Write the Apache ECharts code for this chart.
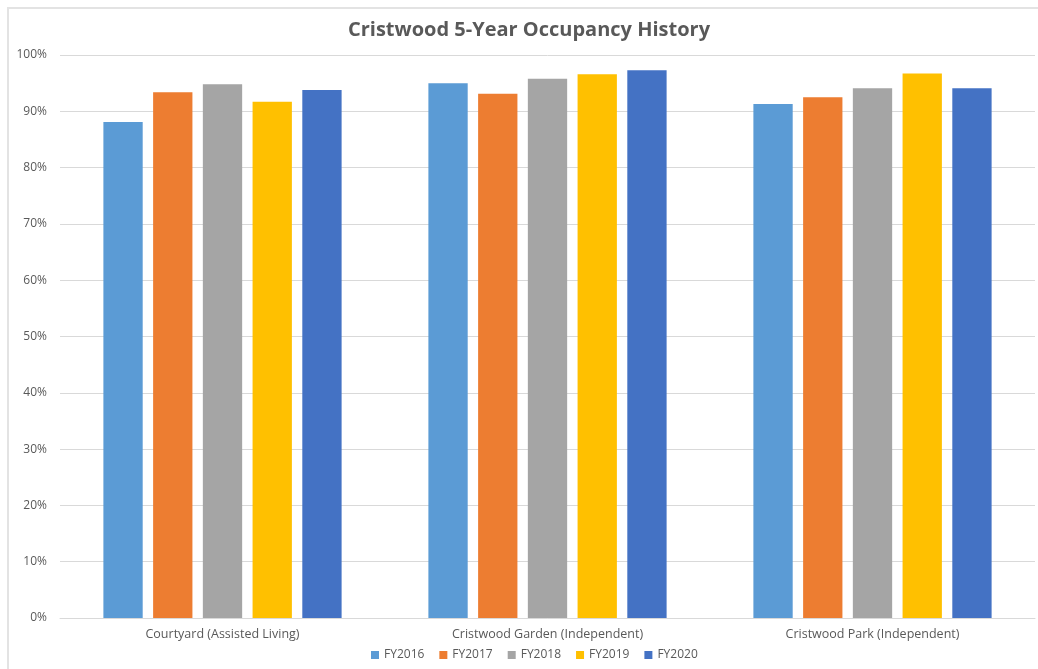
<!DOCTYPE html>
<html>
<head>
<meta charset="utf-8">
<script src="https://cdn.jsdelivr.net/npm/echarts@6/dist/echarts.min.js"></script>
<style>
  html, body { margin: 0; padding: 0; background: #fff; overflow: hidden; }
  #frame { position: absolute; left: 7px; top: 7px; width: 1100px; height: 700px; border: 2px solid #e3e3e3; box-sizing: border-box; }
  #chart { position: absolute; left: 0; top: 0; width: 1038px; height: 669px; }
</style>
</head>
<body>
<div id="frame"></div>
<div id="chart"></div>
<script>
const categories = ['Courtyard (Assisted Living)', 'Cristwood Garden (Independent)', 'Cristwood Park (Independent)'];
const years = ['FY2016', 'FY2017', 'FY2018', 'FY2019', 'FY2020'];
const fy2016 = [0.881, 0.950, 0.913];
const fy2017 = [0.934, 0.931, 0.925];
const fy2018 = [0.948, 0.958, 0.941];
const fy2019 = [0.917, 0.966, 0.967];
const fy2020 = [0.938, 0.973, 0.941];
const colors = ['#5b9bd5', '#ed7d31', '#a5a5a5', '#ffc000', '#4472c4'];

const chart = echarts.init(document.getElementById('chart'));
const allValues = [fy2016, fy2017, fy2018, fy2019, fy2020];

chart.setOption({
  animation: false,
  color: colors,
  title: {
    text: 'Cristwood 5-Year Occupancy History',
    left: 343,
    top: 15,
    textStyle: { fontFamily: 'Open Sans', fontSize: 20, fontWeight: 'bold', color: '#595959' }
  },
  legend: {
    data: years,
    bottom: 3,
    left: 366,
    icon: 'rect',
    itemWidth: 8,
    itemHeight: 8,
    itemGap: 15,
    textStyle: { fontFamily: 'Open Sans', fontSize: 12, color: '#595959' }
  },
  grid: { left: 60, right: 3, top: 55, bottom: 51 },
  xAxis: {
    type: 'category',
    data: categories,
    axisLine: { lineStyle: { color: '#d9d9d9' } },
    axisTick: { show: false },
    axisLabel: { fontFamily: 'Open Sans', fontSize: 12.5, color: '#595959', margin: 10 }
  },
  yAxis: {
    type: 'value',
    min: 0,
    max: 1,
    interval: 0.1,
    axisLine: { show: false },
    axisTick: { show: false },
    splitLine: { lineStyle: { color: '#d9d9d9' } },
    axisLabel: {
      fontFamily: 'Open Sans', fontSize: 12, color: '#595959', margin: 13,
      formatter: v => Math.round(v * 100) + '%'
    }
  },
  series: years.map((name, i) => ({
    name: name,
    type: 'bar',
    data: allValues[i],
    barGap: '26.5%',
    barCategoryGap: '26.7%'
  }))
});
</script>
</body>
</html>
